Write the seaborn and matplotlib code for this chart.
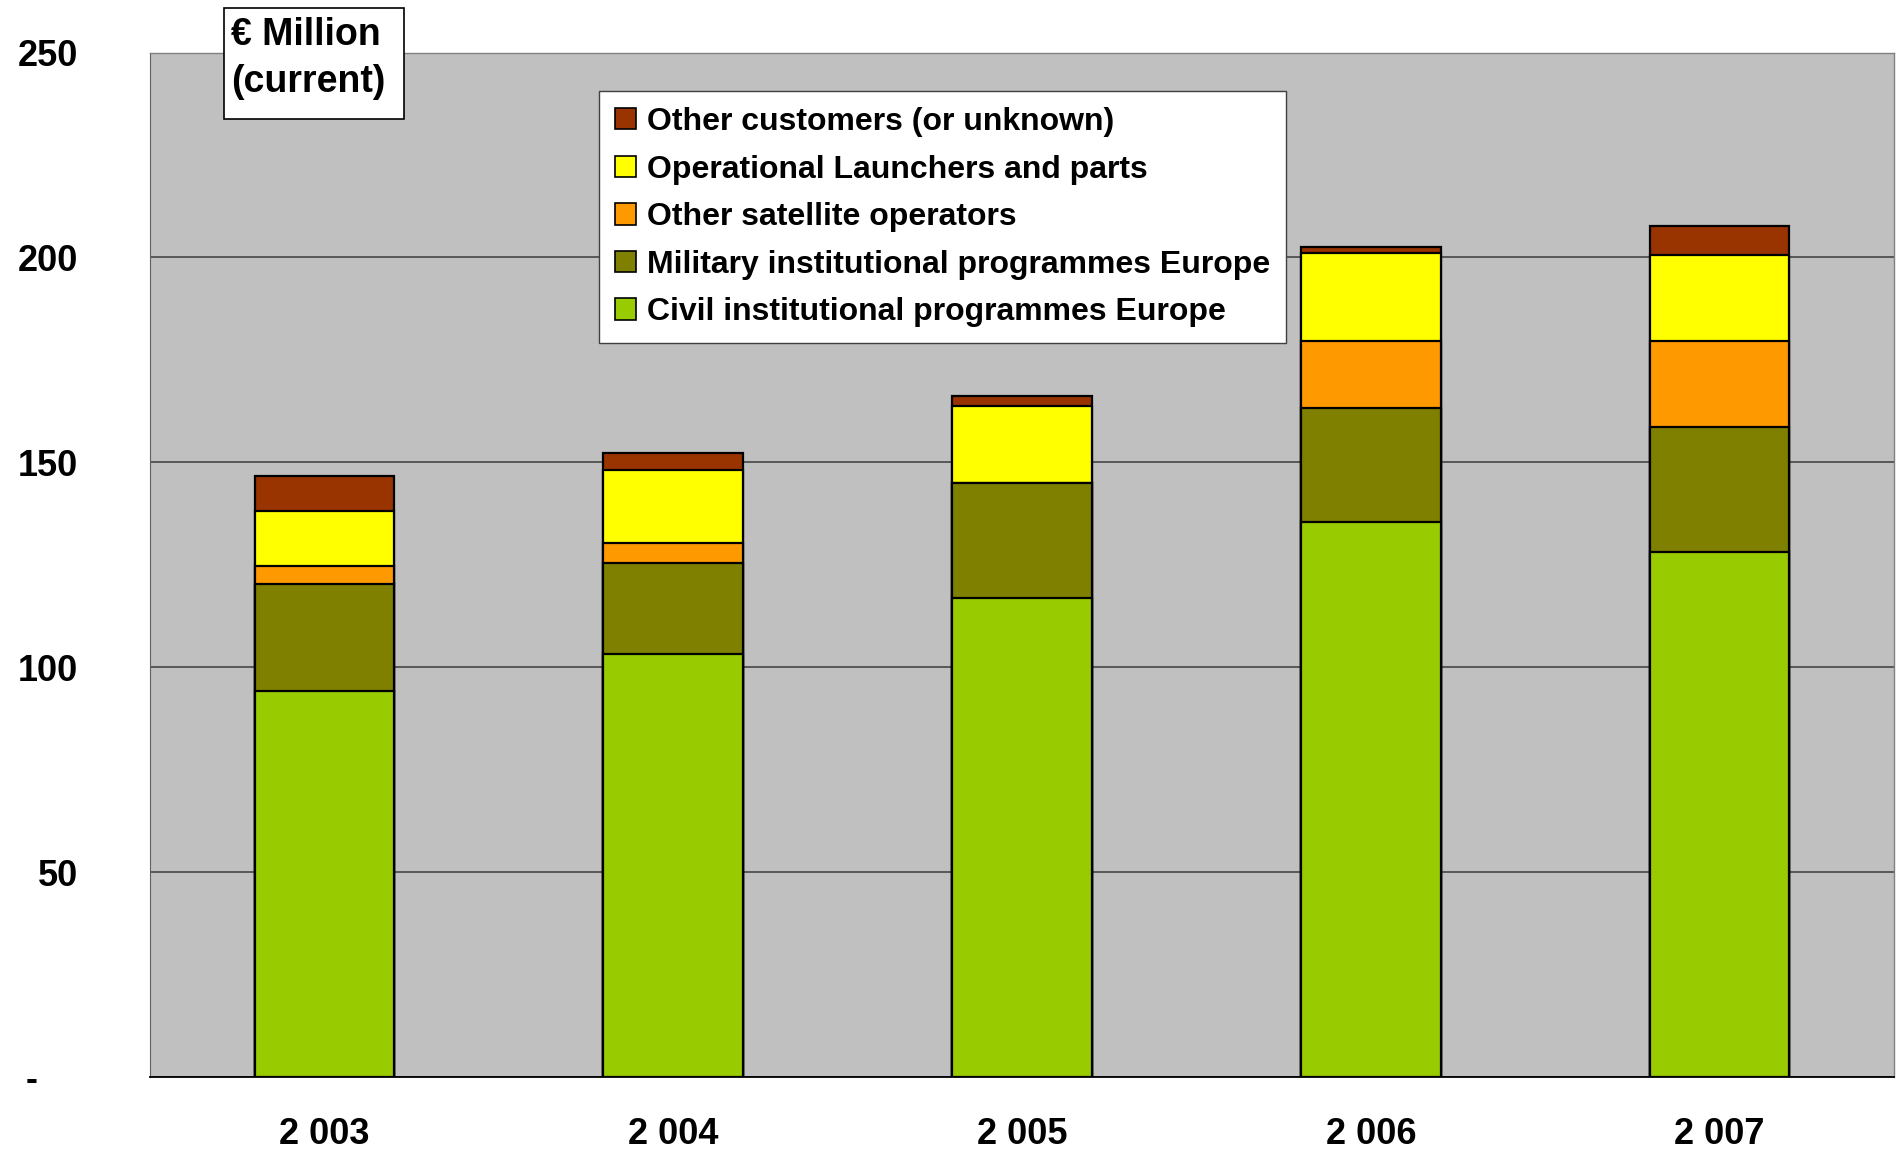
import numpy as np
import pandas as pd
import matplotlib
matplotlib.use("Agg")
import matplotlib.pyplot as plt
from matplotlib.patches import Patch, Rectangle
import seaborn as sns

# data (EUR million, current)
years = ["2 003", "2 004", "2 005", "2 006", "2 007"]
civil = [94.3, 103.1, 117.0, 135.4, 128.0]
military = [25.9, 22.4, 28.0, 27.9, 30.6]
other_sat = [4.5, 4.8, 0.0, 16.4, 21.0]
launchers = [13.4, 17.8, 18.8, 21.3, 21.0]
other_cust = [8.6, 4.2, 2.4, 1.6, 7.1]

series_names = ["Civil institutional programmes Europe",
                "Military institutional programmes Europe",
                "Other satellite operators",
                "Operational Launchers and parts",
                "Other customers (or unknown)"]
series_colors = ["#99CC00", "#808000", "#FF9900", "#FFFF00", "#993300"]
ytick_vals = [0, 50, 100, 150, 200, 250]
ytick_labels = ["-    ", "50", "100", "150", "200", "250"]

sns.set_style("white")
plt.rcParams["font.family"] = ["Liberation Sans", "DejaVu Sans"]
plt.rcParams["font.weight"] = "bold"
plt.rcParams["text.color"] = "black"
plt.rcParams["xtick.color"] = "black"
plt.rcParams["ytick.color"] = "black"

df = pd.DataFrame({"year": years, series_names[0]: civil, series_names[1]: military,
                   series_names[2]: other_sat, series_names[3]: launchers,
                   series_names[4]: other_cust})
# cumulative heights for stacking
cum = df[series_names].cumsum(axis=1)
cum["year"] = df["year"]

W, H = 1898, 1152
fig = plt.figure(figsize=(W / 100, H / 100), dpi=100)
ax = fig.add_axes([150 / W, 1 - 1077 / H, (1894 - 150) / W, (1077 - 52.5) / H])
ax.set_facecolor("#C0C0C0")

# draw tallest first so lower segments sit on top
for name, col in reversed(list(zip(series_names, series_colors))):
    sns.barplot(data=cum, x="year", y=name, color=col, width=0.4, saturation=1,
                edgecolor="black", linewidth=1.6, ax=ax, zorder=3)

ax.set_ylim(0, 250)
ax.set_xlim(-0.5, 4.5)
ax.set_yticks(ytick_vals)
ax.set_yticklabels(ytick_labels)
ax.yaxis.grid(True, color="#505050", linewidth=1.3)
ax.set_axisbelow(True)
ax.set_xlabel("")
ax.set_ylabel("")

ax.set_xticks(range(len(years)))
ax.set_xticklabels(years)
ax.set_xticks(np.arange(-0.5, len(years), 1.0), minor=True)
ax.tick_params(axis="x", which="major", length=0, pad=29, labelsize=26, labelcolor="black")
ax.tick_params(axis="x", which="minor", length=9, width=1, color="#505050", direction="out")
ax.tick_params(axis="y", length=8, width=1, color="black", direction="out", pad=44,
               labelsize=26, labelcolor="black")

for s in ["top", "right"]:
    ax.spines[s].set_color("#808080")
    ax.spines[s].set_linewidth(1)
ax.spines["left"].set_color("#606060")
ax.spines["bottom"].set_color("black")
ax.spines["bottom"].set_linewidth(1.3)

handles = [Patch(facecolor=c, edgecolor="black", linewidth=1.2, label=n)
           for n, c in zip(series_names, series_colors)][::-1]
leg = fig.legend(handles=handles, loc="upper left", bbox_to_anchor=(599 / W, 1 - 91 / H),
                 frameon=True, fancybox=False, fontsize=23, handlelength=0.65,
                 handleheight=0.65, handletextpad=0.35, labelspacing=0.55,
                 borderpad=0.5, borderaxespad=0, framealpha=1)
leg.get_frame().set_edgecolor("#404040")
leg.get_frame().set_facecolor("white")
leg.get_frame().set_linewidth(1)
for t in leg.get_texts():
    t.set_color("black")

# unit box in the top left corner
fig.patches.append(Rectangle((224 / W, 1 - 119 / H), 180 / W, 111 / H,
                             transform=fig.transFigure, facecolor="white",
                             edgecolor="black", linewidth=1.2))
fig.text(231 / W, 1 - 17 / H, "€ Million\n(current)", ha="left", va="top", fontsize=27,
         fontweight="bold", linespacing=1.4, color="black")

fig.savefig("out.png", dpi=100)
